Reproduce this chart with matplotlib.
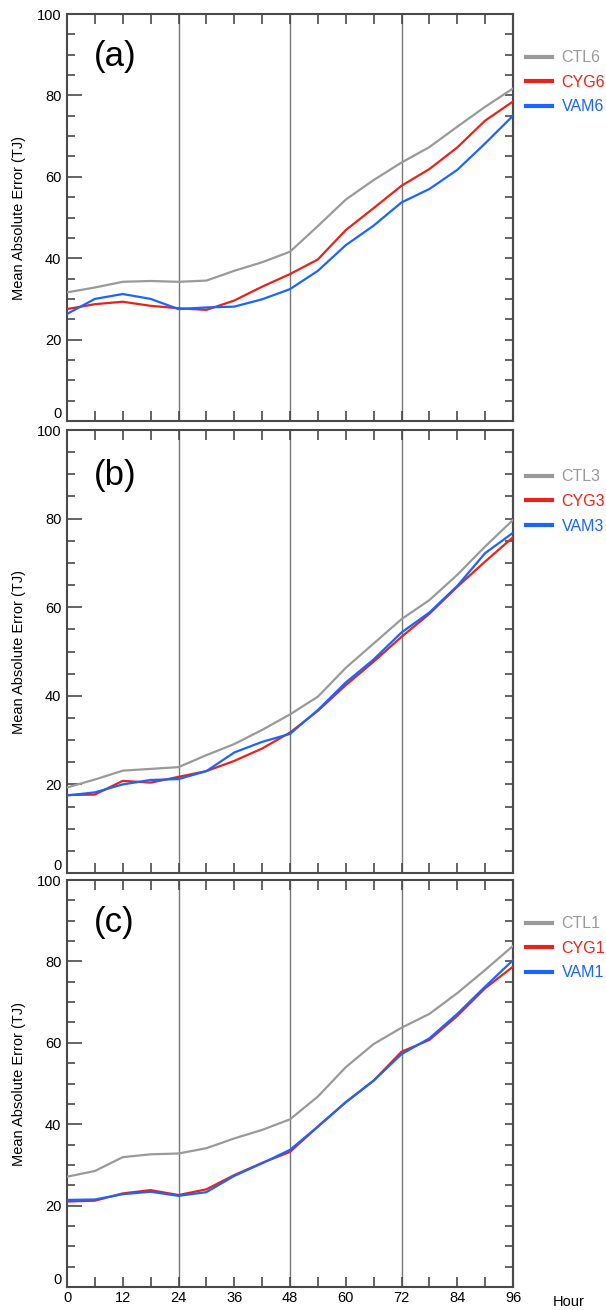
import matplotlib
matplotlib.use("Agg")
import matplotlib.pyplot as plt
import numpy as np

plt.rcParams['font.family'] = ['Liberation Sans', 'DejaVu Sans']

hours = [0, 6, 12, 18, 24, 30, 36, 42, 48, 54, 60, 66, 72, 78, 84, 90, 96]

ctl6 = [31.6, 32.8, 34.2, 34.4, 34.2, 34.5, 36.9, 39.0, 41.6, 47.9, 54.4, 59.2, 63.5, 67.3, 72.3, 77.2, 81.7]
cyg6 = [27.5, 28.7, 29.3, 28.3, 27.7, 27.3, 29.6, 33.0, 36.1, 39.7, 46.9, 52.3, 57.8, 61.9, 67.2, 73.8, 78.5]
vam6 = [26.3, 30.0, 31.2, 30.0, 27.5, 27.9, 28.1, 29.9, 32.4, 36.9, 43.2, 48.0, 53.7, 57.0, 61.7, 68.2, 75.0]

ctl3 = [19.3, 21.1, 23.1, 23.5, 23.9, 26.6, 29.1, 32.3, 35.8, 39.8, 46.3, 51.8, 57.3, 61.6, 67.3, 73.7, 79.7]
cyg3 = [17.6, 17.7, 20.8, 20.4, 21.7, 23.0, 25.3, 28.1, 31.7, 36.6, 42.4, 47.7, 53.3, 58.5, 64.6, 70.3, 75.8]
vam3 = [17.5, 18.2, 20.0, 21.0, 21.2, 23.0, 27.2, 29.6, 31.4, 36.8, 43.0, 48.2, 54.3, 58.8, 64.8, 72.2, 76.8]

ctl1 = [27.1, 28.5, 31.9, 32.6, 32.8, 34.1, 36.5, 38.6, 41.2, 46.8, 54.0, 59.7, 63.7, 67.1, 72.2, 77.9, 83.8]
cyg1 = [21.0, 21.2, 23.0, 23.8, 22.6, 24.0, 27.5, 30.5, 33.2, 39.4, 45.4, 50.7, 57.8, 60.7, 66.6, 73.4, 78.7]
vam1 = [21.4, 21.5, 22.8, 23.4, 22.4, 23.3, 27.3, 30.4, 33.7, 39.4, 45.4, 50.7, 57.2, 61.1, 67.1, 73.8, 80.3]

panels = [
    ("(a)", ["CTL6", "CYG6", "VAM6"], [ctl6, cyg6, vam6]),
    ("(b)", ["CTL3", "CYG3", "VAM3"], [ctl3, cyg3, vam3]),
    ("(c)", ["CTL1", "CYG1", "VAM1"], [ctl1, cyg1, vam1]),
]
colors = ["#9a9a9a", "#e8231a", "#1a64ff"]
vlines = [24, 48, 72]
xticks = [0, 12, 24, 36, 48, 60, 72, 84, 96]
yticks = [0, 20, 40, 60, 80, 100]

W, H = 606, 1310
fig = plt.figure(figsize=(W / 100, H / 100), dpi=100)

# axes boxes in pixels: (top, bottom)
boxes = [(14, 421), (430, 873), (880, 1287)]
left_px, right_px = 67, 513
spine_col = "#4a4a4a"

for i, ((lab, names, series), (t, b)) in enumerate(zip(panels, boxes)):
    ax = fig.add_axes([left_px / W, 1 - b / H, (right_px - left_px) / W, (b - t) / H])
    for x in vlines:
        ax.axvline(x, color="#777777", lw=1.0, zorder=1)
    for name, s, c in zip(names, series, colors):
        ax.plot(hours, s, color=c, lw=1.6, label=name, zorder=3)
    ax.set_xlim(0, 96)
    ax.set_ylim(0, 100)
    ax.set_xticks(xticks)
    ax.set_xticks(range(0, 97, 6), minor=True)
    ax.set_yticks(yticks)
    ax.set_yticks(range(0, 101, 5), minor=True)
    ax.tick_params(axis='x', which='both', direction='in', length=7, width=1.2,
                   top=True, bottom=True, color=spine_col, labelsize=10.5, pad=3)
    ax.tick_params(axis='y', which='major', direction='in', length=11, width=1.2,
                   left=True, right=False, color=spine_col, labelsize=10.5, pad=4)
    ax.tick_params(axis='y', which='minor', direction='in', length=5.5, width=1.2,
                   left=True, right=False, color=spine_col)
    sec = ax.secondary_yaxis('right')
    sec.set_yticks(range(0, 101, 5))
    sec.set_yticklabels([])
    sec.tick_params(direction='in', length=6, width=1.2, color=spine_col)
    sec.spines['right'].set_color(spine_col)
    sec.spines['right'].set_linewidth(1.5)
    for sp in ax.spines.values():
        sp.set_color(spine_col)
        sp.set_linewidth(1.5)
    if i < 2:
        ax.set_xticklabels([])
    ylabs = ax.get_yticklabels()
    ylabs[0].set_verticalalignment('bottom')
    ax.set_ylabel("Mean Absolute Error (TJ)", fontsize=10.5)
    ax.yaxis.set_label_coords(-0.093, 0.5)
    ax.text(0.06, 0.935, lab, transform=ax.transAxes, fontsize=25, va='top', ha='left')
    leg = ax.legend(loc='upper left', bbox_to_anchor=(1.03, 0.911), frameon=False,
                    borderpad=0, borderaxespad=0, handlelength=1.6, handletextpad=0.6,
                    labelspacing=0.6, fontsize=11.5)
    for txt, c in zip(leg.get_texts(), colors):
        txt.set_color(c)
    for ln in leg.get_lines():
        ln.set_linewidth(3)
    if i == 2:
        ax.text(1.09, -0.037, "Hour", transform=ax.transAxes, fontsize=10.5,
                va='center', ha='left')

fig.savefig("out.png", dpi=100)
